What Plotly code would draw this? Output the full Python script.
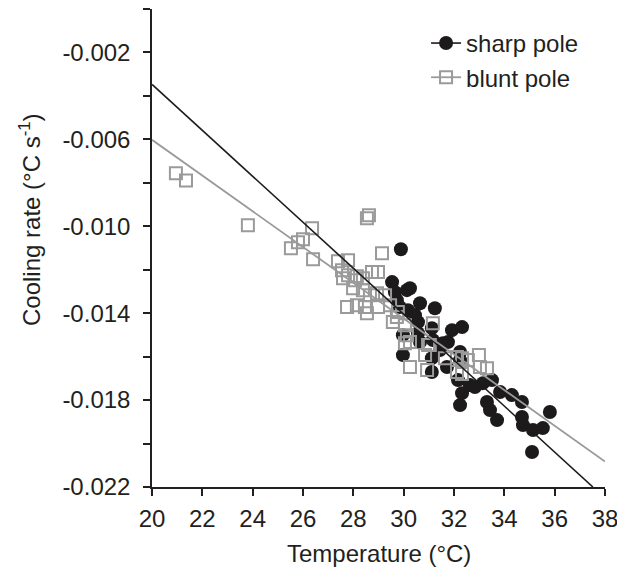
import plotly.graph_objects as go

# ---- data ----
blunt_x = [20.95, 21.35, 23.81, 25.52, 25.80, 26.00, 26.36, 26.40, 27.39, 27.55,
           27.79, 27.79, 28.14, 28.54, 28.62, 29.14, 28.74, 28.98, 27.59, 28.07,
           28.38, 27.99, 28.38, 28.66, 28.94, 29.26, 27.75, 28.14, 28.46, 28.54,
           28.98, 29.46, 29.73, 30.05, 30.13, 29.57, 30.25, 30.05, 30.97, 30.85,
           31.16, 31.64, 32.12, 32.32, 30.25, 30.93, 32.12, 32.32, 32.55, 32.99,
           33.03, 33.31, 31.04, 29.77]
blunt_y = [-0.00756, -0.00789, -0.00995, -0.01101, -0.01074, -0.01060, -0.01009, -0.01152, -0.01161, -0.01202,
           -0.01156, -0.01225, -0.01230, -0.00963, -0.00949, -0.01124, -0.01211, -0.01211, -0.01239, -0.01248,
           -0.01239, -0.01285, -0.01294, -0.01317, -0.01308, -0.01317, -0.01372, -0.01363, -0.01372, -0.01400,
           -0.01372, -0.01363, -0.01418, -0.01455, -0.01501, -0.01441, -0.01533, -0.01538, -0.01547, -0.01593,
           -0.01446, -0.01607, -0.01602, -0.01607, -0.01648, -0.01662, -0.01671, -0.01680, -0.01616, -0.01593,
           -0.01648, -0.01653, -0.01547, -0.01395]

sharp_x = [29.89, 29.54, 29.65, 29.73, 29.85, 30.13, 30.17, 30.65, 31.24, 30.45,
           30.57, 29.97, 31.12, 31.92, 32.32, 31.16, 31.44, 29.97, 31.12, 31.76,
           32.24, 31.12, 30.57, 30.65, 31.56, 31.72, 32.24, 32.16, 32.32, 32.24,
           32.83, 33.15, 33.51, 33.31, 33.43, 33.71, 33.83, 34.30, 34.70, 34.70,
           34.74, 35.14, 35.53, 35.81, 35.10, 32.63, 30.25]
sharp_y = [-0.01106, -0.01257, -0.01303, -0.01340, -0.01372, -0.01294, -0.01386, -0.01354, -0.01377, -0.01409,
           -0.01441, -0.01501, -0.01469, -0.01478, -0.01464, -0.01524, -0.01570, -0.01593, -0.01607, -0.01533,
           -0.01616, -0.01671, -0.01492, -0.01533, -0.01538, -0.01648, -0.01579, -0.01708, -0.01768, -0.01823,
           -0.01740, -0.01722, -0.01708, -0.01809, -0.01846, -0.01892, -0.01763, -0.01777, -0.01809, -0.01878,
           -0.01915, -0.01938, -0.01929, -0.01855, -0.02039, -0.01731, -0.01285]

# regression lines (end points)
sharp_fit_x = [20.0, 37.52]
sharp_fit_y = [-0.00347, -0.0220]
blunt_fit_x = [20.0, 38.0]
blunt_fit_y = [-0.00602, -0.02083]

x_ticks = [20, 22, 24, 26, 28, 30, 32, 34, 36, 38]
y_ticks = [0.0, -0.002, -0.004, -0.006, -0.008, -0.010, -0.012, -0.014,
           -0.016, -0.018, -0.020, -0.022]
y_tick_text = ["", "-0.002", "", "-0.006", "", "-0.010", "", "-0.014",
               "", "-0.018", "", "-0.022"]

BLACK = "#1c1a1b"
GREY = "#9a9a9a"
TXT = "#231f20"
FONT = "Liberation Sans, Arial, sans-serif"

fig = go.Figure()

fig.add_trace(go.Scatter(x=sharp_x, y=sharp_y, mode="markers", showlegend=False,
                         marker=dict(symbol="circle", size=14, color=BLACK,
                                     line=dict(width=0))))
fig.add_trace(go.Scatter(x=blunt_x, y=blunt_y, mode="markers", showlegend=False,
                         marker=dict(symbol="square-open", size=12, color=GREY,
                                     line=dict(width=2, color=GREY))))
fig.add_trace(go.Scatter(x=sharp_fit_x, y=sharp_fit_y, mode="lines", showlegend=False,
                         line=dict(color=BLACK, width=1.6)))
fig.add_trace(go.Scatter(x=blunt_fit_x, y=blunt_fit_y, mode="lines", showlegend=False,
                         line=dict(color=GREY, width=1.8)))

# legend entries
fig.add_trace(go.Scatter(x=[None], y=[None], mode="lines+markers", name="sharp pole",
                         marker=dict(symbol="circle", size=14, color=BLACK),
                         line=dict(color=BLACK, width=1.6)))
fig.add_trace(go.Scatter(x=[None], y=[None], mode="lines+markers", name="blunt pole",
                         marker=dict(symbol="square-open", size=12, color=GREY,
                                     line=dict(width=2, color=GREY)),
                         line=dict(color=GREY, width=1.8)))

fig.update_layout(
    width=617, height=579,
    margin=dict(l=152, r=12, t=9, b=92, autoexpand=False),
    paper_bgcolor="white", plot_bgcolor="white",
    font=dict(family=FONT, size=24, color=TXT),
    showlegend=True,
    legend=dict(x=0.605, y=0.975, xanchor="left", yanchor="top",
                bgcolor="rgba(0,0,0,0)", font=dict(size=24, color=TXT),
                tracegroupgap=0, itemwidth=30),
    xaxis=dict(range=[20, 38], tickvals=x_ticks, ticktext=[str(v) for v in x_ticks],
               showgrid=False, zeroline=False, showline=True, linecolor=TXT,
               linewidth=1.5, ticks="outside", ticklen=7, tickwidth=1.5,
               tickcolor=TXT, tickfont=dict(size=24, color=TXT),
               ticklabeloverflow="allow", automargin=False, ticklabelstandoff=2),
    yaxis=dict(range=[-0.022, 0.0], tickvals=y_ticks, ticktext=y_tick_text,
               showgrid=False, zeroline=False, showline=True, linecolor=TXT,
               linewidth=1.5, ticks="outside", ticklen=7, tickwidth=1.5,
               tickcolor=TXT, tickfont=dict(size=24, color=TXT),
               ticklabeloverflow="allow", automargin=False, ticklabelstandoff=8),
    annotations=[
        dict(text="Temperature (°C)", xref="paper", yref="paper", x=0.5, y=0,
             xanchor="center", yanchor="middle", yshift=-66, showarrow=False,
             font=dict(size=24, color=TXT)),
        dict(text="Cooling rate (°C s<sup>-1</sup>)", xref="paper", yref="paper",
             x=0, y=0.5, xanchor="center", yanchor="middle", xshift=-122,
             yshift=28, textangle=-90, showarrow=False,
             font=dict(size=24, color=TXT)),
    ],
)

fig.write_html("out.html", config={"displayModeBar": False},
               post_script="document.body.style.margin='0px';")
